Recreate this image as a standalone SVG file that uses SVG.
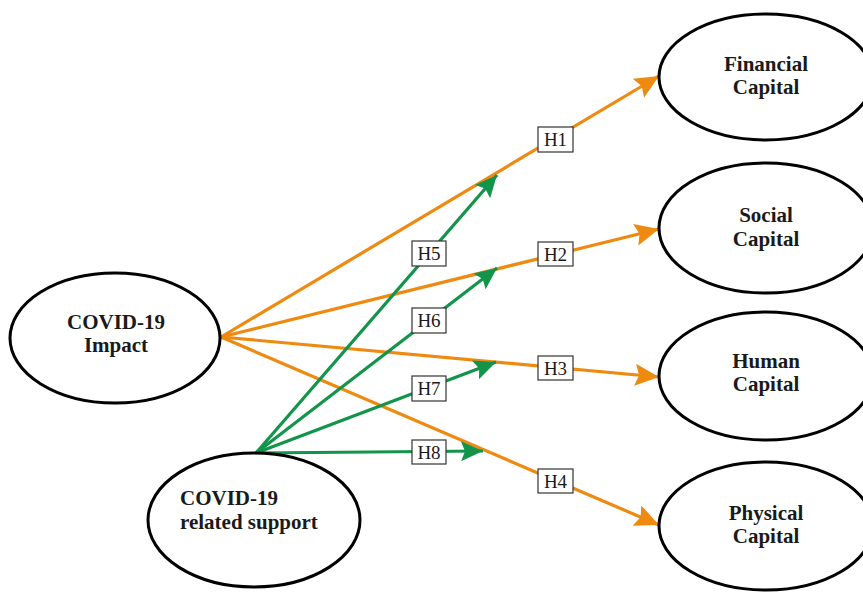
<svg xmlns="http://www.w3.org/2000/svg" width="863" height="592" viewBox="0 0 863 592">
<defs>
<style>
.node{fill:#fff;stroke:#000;stroke-width:3}
.nt{font-family:"Liberation Serif","Times New Roman",serif;font-weight:bold;font-size:21px;fill:#1a1a1a}
.or{stroke:#EE8A10;stroke-width:3.2;fill:none}
.gr{stroke:#12944A;stroke-width:3.2;fill:none}
.lb rect{fill:#fff;stroke:#333;stroke-width:1.2}
.lb text{font-family:"Liberation Serif","Times New Roman",serif;font-size:19px;fill:#1a1a1a;text-anchor:middle}
</style>
<marker id="ao" markerUnits="userSpaceOnUse" markerWidth="26" markerHeight="24" refX="24" refY="12" orient="auto" viewBox="0 0 26 24">
<path d="M0,1 L24,12 L0,23 L4,12 z" fill="#EE8A10"/>
</marker>
<marker id="ag" markerUnits="userSpaceOnUse" markerWidth="24" markerHeight="22" refX="22" refY="11" orient="auto" viewBox="0 0 24 22">
<path d="M0,1 L22,11 L0,21 L4,11 z" fill="#12944A"/>
</marker>
</defs>
<rect width="863" height="592" fill="#fff"/>
<g id="connectors">
<line class="or" x1="221" y1="337" x2="659" y2="76" marker-end="url(#ao)"/>
<line class="or" x1="221" y1="337" x2="659" y2="229" marker-end="url(#ao)"/>
<line class="or" x1="221" y1="337" x2="659" y2="377" marker-end="url(#ao)"/>
<line class="or" x1="221" y1="337" x2="659" y2="525" marker-end="url(#ao)"/>
<line class="gr" x1="256" y1="453" x2="497" y2="175" marker-end="url(#ag)"/>
<line class="gr" x1="256" y1="453" x2="497" y2="268" marker-end="url(#ag)"/>
<line class="gr" x1="256" y1="453" x2="496" y2="362" marker-end="url(#ag)"/>
<line class="gr" x1="256" y1="453" x2="483" y2="451" marker-end="url(#ag)"/>
<g class="lb"><rect x="538" y="127" width="35" height="25"/><text x="555.5" y="146">H1</text></g>
<g class="lb"><rect x="538" y="242" width="35" height="24"/><text x="555.5" y="260.5">H2</text></g>
<g class="lb"><rect x="538" y="356" width="35" height="24"/><text x="555.5" y="374.5">H3</text></g>
<g class="lb"><rect x="538" y="469" width="35" height="24"/><text x="555.5" y="487.5">H4</text></g>
<g class="lb"><rect x="412" y="241" width="34" height="25"/><text x="429" y="260">H5</text></g>
<g class="lb"><rect x="412" y="308" width="34" height="25"/><text x="429" y="327">H6</text></g>
<g class="lb"><rect x="412" y="376" width="34" height="25"/><text x="429" y="395">H7</text></g>
<g class="lb"><rect x="412" y="440" width="34" height="24"/><text x="429" y="458.5">H8</text></g>
</g>
<g id="impact">
<ellipse class="node" cx="115" cy="338" rx="105" ry="65"/>
<text class="nt" x="116" y="329" text-anchor="middle">COVID-19</text>
<text class="nt" x="116" y="352" text-anchor="middle">Impact</text>
</g>
<g id="support">
<ellipse class="node" cx="254" cy="520" rx="106" ry="67"/>
<text class="nt" x="180" y="505">COVID-19</text>
<text class="nt" x="180" y="529">related support</text>
</g>
<g id="financial">
<ellipse class="node" cx="766" cy="77" rx="107" ry="63"/>
<text class="nt" x="766" y="71" text-anchor="middle">Financial</text>
<text class="nt" x="766" y="94" text-anchor="middle">Capital</text>
</g>
<g id="social">
<ellipse class="node" cx="766" cy="228" rx="107" ry="65"/>
<text class="nt" x="766" y="222" text-anchor="middle">Social</text>
<text class="nt" x="766" y="246" text-anchor="middle">Capital</text>
</g>
<g id="human">
<ellipse class="node" cx="766" cy="376" rx="107" ry="64"/>
<text class="nt" x="766" y="368" text-anchor="middle">Human</text>
<text class="nt" x="766" y="391" text-anchor="middle">Capital</text>
</g>
<g id="physical">
<ellipse class="node" cx="766" cy="526" rx="107" ry="64"/>
<text class="nt" x="766" y="520" text-anchor="middle">Physical</text>
<text class="nt" x="766" y="543" text-anchor="middle">Capital</text>
</g>
</svg>
